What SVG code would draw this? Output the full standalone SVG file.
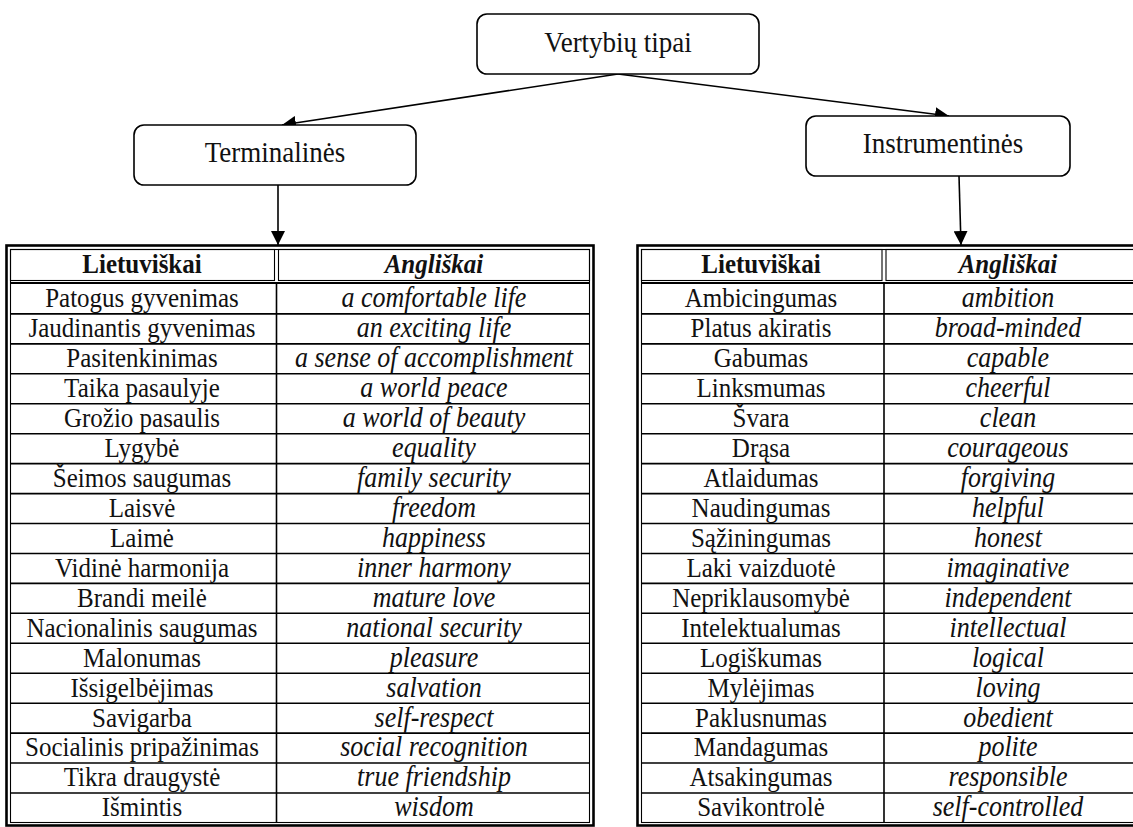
<svg xmlns="http://www.w3.org/2000/svg" width="1133" height="827" viewBox="0 0 1133 827">
  <style>
    .node { fill: #fff; stroke: #000; stroke-width: 1.6; }
    .lbl { font-family: "Liberation Serif", "Times New Roman", serif; font-size: 27px; fill: #111; text-anchor: middle; }
    .cell { font-family: "Liberation Serif", "Times New Roman", serif; font-size: 25px; fill: #111; text-anchor: middle; }
    .en { font-style: italic; font-size: 26px; }
    .hd { font-weight: bold; font-size: 25px; }
    .edge { stroke: #000; stroke-width: 1.6; fill: none; marker-end: url(#arrow); }
    .outer { fill: none; stroke: #000; stroke-width: 2.6; }
    .thin { fill: none; stroke: #000; stroke-width: 1.1; }
    .rule { stroke: #000; stroke-width: 1.6; }
    .heavy { stroke: #000; stroke-width: 2.2; }
  </style>
  <defs>
    <marker id="arrow" markerUnits="userSpaceOnUse" markerWidth="14" markerHeight="14" refX="14" refY="7" orient="auto">
      <path d="M0,0 L14,7 L0,14 Z" fill="#000"/>
    </marker>
  </defs>
  <rect width="1133" height="827" fill="#fff"/>

  <!-- connectors -->
  <g id="connectors">
    <line class="edge" x1="618" y1="74" x2="282" y2="125"/>
    <line class="edge" x1="618" y1="74" x2="949" y2="116"/>
    <line class="edge" x1="278" y1="185" x2="278" y2="245"/>
    <line class="edge" x1="959" y1="176" x2="961" y2="245"/>
  </g>

  <!-- root -->
  <g id="node-root">
    <rect class="node" x="477" y="14" width="282" height="60" rx="10"/>
    <g transform="translate(0,52) scale(1,1.1)"><text class="lbl" x="618" y="0">Vertybių tipai</text></g>
  </g>

  <g id="node-terminal">
    <rect class="node" x="134" y="125" width="282" height="60" rx="10"/>
    <g transform="translate(0,162) scale(1,1.1)"><text class="lbl" x="275" y="0">Terminalinės</text></g>
  </g>

  <g id="node-instrumental">
    <rect class="node" x="806" y="116" width="264" height="60" rx="10"/>
    <g transform="translate(0,153) scale(1,1.1)"><text class="lbl" x="943" y="0">Instrumentinės</text></g>
  </g>

  <!-- terminal values table -->
  <g id="table-terminal">
    <rect class="outer" x="6.5" y="245.5" width="587" height="580"/>
    <rect class="thin" x="10.5" y="249.5" width="579" height="573"/>
    <rect class="thin" x="10.5" y="249.5" width="264" height="31"/>
    <rect class="thin" x="278.5" y="249.5" width="311" height="31"/>
    <line class="heavy" x1="10.5" y1="283" x2="589.5" y2="283"/>
    <line class="rule" x1="276.5" y1="283" x2="276.5" y2="822.5"/>
    <g class="rows">
      <line class="rule" x1="10.5" y1="313.9" x2="589.5" y2="313.9"/>
      <line class="rule" x1="10.5" y1="343.9" x2="589.5" y2="343.9"/>
      <line class="rule" x1="10.5" y1="373.8" x2="589.5" y2="373.8"/>
      <line class="rule" x1="10.5" y1="403.8" x2="589.5" y2="403.8"/>
      <line class="rule" x1="10.5" y1="433.7" x2="589.5" y2="433.7"/>
      <line class="rule" x1="10.5" y1="463.6" x2="589.5" y2="463.6"/>
      <line class="rule" x1="10.5" y1="493.6" x2="589.5" y2="493.6"/>
      <line class="rule" x1="10.5" y1="523.5" x2="589.5" y2="523.5"/>
      <line class="rule" x1="10.5" y1="553.5" x2="589.5" y2="553.5"/>
      <line class="rule" x1="10.5" y1="583.4" x2="589.5" y2="583.4"/>
      <line class="rule" x1="10.5" y1="613.3" x2="589.5" y2="613.3"/>
      <line class="rule" x1="10.5" y1="643.3" x2="589.5" y2="643.3"/>
      <line class="rule" x1="10.5" y1="673.2" x2="589.5" y2="673.2"/>
      <line class="rule" x1="10.5" y1="703.2" x2="589.5" y2="703.2"/>
      <line class="rule" x1="10.5" y1="733.1" x2="589.5" y2="733.1"/>
      <line class="rule" x1="10.5" y1="763.0" x2="589.5" y2="763.0"/>
      <line class="rule" x1="10.5" y1="793.0" x2="589.5" y2="793.0"/>
    </g>
    <g transform="translate(0,272.5) scale(1,1.1)"><text class="cell hd" x="142" y="0">Lietuviškai</text><text class="cell hd en" x="434" y="0">Angliškai</text></g>
    <g transform="translate(0,307.3) scale(1,1.1)"><text class="cell" x="142" y="0">Patogus gyvenimas</text><text class="cell en" x="434" y="0">a comfortable life</text></g>
    <g transform="translate(0,337.2) scale(1,1.1)"><text class="cell" x="142" y="0">Jaudinantis gyvenimas</text><text class="cell en" x="434" y="0">an exciting life</text></g>
    <g transform="translate(0,367.2) scale(1,1.1)"><text class="cell" x="142" y="0">Pasitenkinimas</text><text class="cell en" x="434" y="0">a sense of accomplishment</text></g>
    <g transform="translate(0,397.1) scale(1,1.1)"><text class="cell" x="142" y="0">Taika pasaulyje</text><text class="cell en" x="434" y="0">a world peace</text></g>
    <g transform="translate(0,427.1) scale(1,1.1)"><text class="cell" x="142" y="0">Grožio pasaulis</text><text class="cell en" x="434" y="0">a world of beauty</text></g>
    <g transform="translate(0,457.0) scale(1,1.1)"><text class="cell" x="142" y="0">Lygybė</text><text class="cell en" x="434" y="0">equality</text></g>
    <g transform="translate(0,486.9) scale(1,1.1)"><text class="cell" x="142" y="0">Šeimos saugumas</text><text class="cell en" x="434" y="0">family security</text></g>
    <g transform="translate(0,516.9) scale(1,1.1)"><text class="cell" x="142" y="0">Laisvė</text><text class="cell en" x="434" y="0">freedom</text></g>
    <g transform="translate(0,546.8) scale(1,1.1)"><text class="cell" x="142" y="0">Laimė</text><text class="cell en" x="434" y="0">happiness</text></g>
    <g transform="translate(0,576.8) scale(1,1.1)"><text class="cell" x="142" y="0">Vidinė harmonija</text><text class="cell en" x="434" y="0">inner harmony</text></g>
    <g transform="translate(0,606.7) scale(1,1.1)"><text class="cell" x="142" y="0">Brandi meilė</text><text class="cell en" x="434" y="0">mature love</text></g>
    <g transform="translate(0,636.6) scale(1,1.1)"><text class="cell" x="142" y="0">Nacionalinis saugumas</text><text class="cell en" x="434" y="0">national security</text></g>
    <g transform="translate(0,666.6) scale(1,1.1)"><text class="cell" x="142" y="0">Malonumas</text><text class="cell en" x="434" y="0">pleasure</text></g>
    <g transform="translate(0,696.5) scale(1,1.1)"><text class="cell" x="142" y="0">Išsigelbėjimas</text><text class="cell en" x="434" y="0">salvation</text></g>
    <g transform="translate(0,726.5) scale(1,1.1)"><text class="cell" x="142" y="0">Savigarba</text><text class="cell en" x="434" y="0">self-respect</text></g>
    <g transform="translate(0,756.4) scale(1,1.1)"><text class="cell" x="142" y="0">Socialinis pripažinimas</text><text class="cell en" x="434" y="0">social recognition</text></g>
    <g transform="translate(0,786.3) scale(1,1.1)"><text class="cell" x="142" y="0">Tikra draugystė</text><text class="cell en" x="434" y="0">true friendship</text></g>
    <g transform="translate(0,816.3) scale(1,1.1)"><text class="cell" x="142" y="0">Išmintis</text><text class="cell en" x="434" y="0">wisdom</text></g>
  </g>

  <!-- instrumental values table (runs past the right edge) -->
  <g id="table-instrumental">
    <rect class="outer" x="637.5" y="245.5" width="520" height="580"/>
    <rect class="thin" x="641.5" y="249.5" width="510" height="573"/>
    <rect class="thin" x="641.5" y="249.5" width="240.5" height="31"/>
    <rect class="thin" x="886" y="249.5" width="265" height="31"/>
    <line class="heavy" x1="641.5" y1="283" x2="1151.5" y2="283"/>
    <line class="rule" x1="884" y1="283" x2="884" y2="822.5"/>
    <g class="rows">
      <line class="rule" x1="641.5" y1="313.9" x2="1151.5" y2="313.9"/>
      <line class="rule" x1="641.5" y1="343.9" x2="1151.5" y2="343.9"/>
      <line class="rule" x1="641.5" y1="373.8" x2="1151.5" y2="373.8"/>
      <line class="rule" x1="641.5" y1="403.8" x2="1151.5" y2="403.8"/>
      <line class="rule" x1="641.5" y1="433.7" x2="1151.5" y2="433.7"/>
      <line class="rule" x1="641.5" y1="463.6" x2="1151.5" y2="463.6"/>
      <line class="rule" x1="641.5" y1="493.6" x2="1151.5" y2="493.6"/>
      <line class="rule" x1="641.5" y1="523.5" x2="1151.5" y2="523.5"/>
      <line class="rule" x1="641.5" y1="553.5" x2="1151.5" y2="553.5"/>
      <line class="rule" x1="641.5" y1="583.4" x2="1151.5" y2="583.4"/>
      <line class="rule" x1="641.5" y1="613.3" x2="1151.5" y2="613.3"/>
      <line class="rule" x1="641.5" y1="643.3" x2="1151.5" y2="643.3"/>
      <line class="rule" x1="641.5" y1="673.2" x2="1151.5" y2="673.2"/>
      <line class="rule" x1="641.5" y1="703.2" x2="1151.5" y2="703.2"/>
      <line class="rule" x1="641.5" y1="733.1" x2="1151.5" y2="733.1"/>
      <line class="rule" x1="641.5" y1="763.0" x2="1151.5" y2="763.0"/>
      <line class="rule" x1="641.5" y1="793.0" x2="1151.5" y2="793.0"/>
    </g>
    <g transform="translate(0,272.5) scale(1,1.1)"><text class="cell hd" x="761" y="0">Lietuviškai</text><text class="cell hd en" x="1008" y="0">Angliškai</text></g>
    <g transform="translate(0,307.3) scale(1,1.1)"><text class="cell" x="761" y="0">Ambicingumas</text><text class="cell en" x="1008" y="0">ambition</text></g>
    <g transform="translate(0,337.2) scale(1,1.1)"><text class="cell" x="761" y="0">Platus akiratis</text><text class="cell en" x="1008" y="0">broad-minded</text></g>
    <g transform="translate(0,367.2) scale(1,1.1)"><text class="cell" x="761" y="0">Gabumas</text><text class="cell en" x="1008" y="0">capable</text></g>
    <g transform="translate(0,397.1) scale(1,1.1)"><text class="cell" x="761" y="0">Linksmumas</text><text class="cell en" x="1008" y="0">cheerful</text></g>
    <g transform="translate(0,427.1) scale(1,1.1)"><text class="cell" x="761" y="0">Švara</text><text class="cell en" x="1008" y="0">clean</text></g>
    <g transform="translate(0,457.0) scale(1,1.1)"><text class="cell" x="761" y="0">Drąsa</text><text class="cell en" x="1008" y="0">courageous</text></g>
    <g transform="translate(0,486.9) scale(1,1.1)"><text class="cell" x="761" y="0">Atlaidumas</text><text class="cell en" x="1008" y="0">forgiving</text></g>
    <g transform="translate(0,516.9) scale(1,1.1)"><text class="cell" x="761" y="0">Naudingumas</text><text class="cell en" x="1008" y="0">helpful</text></g>
    <g transform="translate(0,546.8) scale(1,1.1)"><text class="cell" x="761" y="0">Sąžiningumas</text><text class="cell en" x="1008" y="0">honest</text></g>
    <g transform="translate(0,576.8) scale(1,1.1)"><text class="cell" x="761" y="0">Laki vaizduotė</text><text class="cell en" x="1008" y="0">imaginative</text></g>
    <g transform="translate(0,606.7) scale(1,1.1)"><text class="cell" x="761" y="0">Nepriklausomybė</text><text class="cell en" x="1008" y="0">independent</text></g>
    <g transform="translate(0,636.6) scale(1,1.1)"><text class="cell" x="761" y="0">Intelektualumas</text><text class="cell en" x="1008" y="0">intellectual</text></g>
    <g transform="translate(0,666.6) scale(1,1.1)"><text class="cell" x="761" y="0">Logiškumas</text><text class="cell en" x="1008" y="0">logical</text></g>
    <g transform="translate(0,696.5) scale(1,1.1)"><text class="cell" x="761" y="0">Mylėjimas</text><text class="cell en" x="1008" y="0">loving</text></g>
    <g transform="translate(0,726.5) scale(1,1.1)"><text class="cell" x="761" y="0">Paklusnumas</text><text class="cell en" x="1008" y="0">obedient</text></g>
    <g transform="translate(0,756.4) scale(1,1.1)"><text class="cell" x="761" y="0">Mandagumas</text><text class="cell en" x="1008" y="0">polite</text></g>
    <g transform="translate(0,786.3) scale(1,1.1)"><text class="cell" x="761" y="0">Atsakingumas</text><text class="cell en" x="1008" y="0">responsible</text></g>
    <g transform="translate(0,816.3) scale(1,1.1)"><text class="cell" x="761" y="0">Savikontrolė</text><text class="cell en" x="1008" y="0">self-controlled</text></g>
  </g>
</svg>
